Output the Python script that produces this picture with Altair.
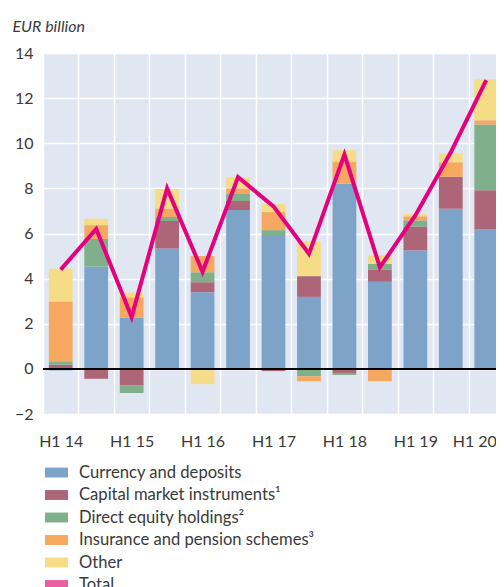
import altair as alt
import pandas as pd

categories = ["H1 14", "H2 14", "H1 15", "H2 15", "H1 16", "H2 16", "H1 17",
              "H2 17", "H1 18", "H2 18", "H1 19", "H2 19", "H1 20"]
series_names = ["Currency and deposits", "Capital market instruments\u00b9",
                "Direct equity holdings\u00b2", "Insurance and pension schemes\u00b3",
                "Other", "Total"]
currency = [-0.07, 4.53, 2.28, 5.34, 3.40, 7.04, 5.93, 3.19, 8.21, 3.86, 5.25, 7.10, 6.18]
capital = [0.19, -0.44, -0.74, 1.21, 0.44, 0.40, -0.10, 0.92, -0.18, 0.55, 1.06, 1.42, 1.74]
equity = [0.12, 1.23, -0.33, 0.18, 0.44, 0.31, 0.22, -0.33, -0.09, 0.24, 0.27, 0.0, 2.91]
insurance = [2.68, 0.61, 0.89, 0.38, 0.72, 0.25, 0.80, -0.22, 0.98, -0.55, 0.18, 0.64, 0.19]
other = [1.45, 0.28, 0.21, 0.86, -0.68, 0.49, 0.35, 1.54, 0.50, 0.38, 0.10, 0.40, 1.82]
total = [4.4, 6.2, 2.3, 8.0, 4.3, 8.5, 7.2, 5.1, 9.5, 4.5, 6.8, 9.6, 12.8]

colors = ["#7ea3c8", "#ac6677", "#80b08b", "#f6a860", "#f5dc86", "#ea5fa0"]
line_color = "#e5007d"
font = "Lato"
text_color = "#3a3a3a"

rows = []
for k, vals in enumerate([currency, capital, equity, insurance, other]):
    for c, v in zip(categories, vals):
        rows.append({"period": c, "series": series_names[k], "idx": k, "value": v})
bars_df = pd.DataFrame(rows)
total_df = pd.DataFrame({"period": categories, "value": total})

last_label = categories[-1]
x_enc = alt.X("period:N", sort=categories,
              scale=alt.Scale(paddingInner=0, paddingOuter=0),
              axis=alt.Axis(title=None, labelAngle=0, grid=True, tickBand="extent",
                            labelExpr="substring(datum.label, 0, 2) == 'H1' ? datum.label : ''",
                            labelOffset={"condition": {"test": f"datum.value == '{last_label}'",
                                                       "value": -12},
                                         "value": 0},
                            labelPadding=19, labelOverlap=False))
y_axis = alt.Axis(values=list(range(-2, 15, 2)), title="EUR billion",
                  titleAngle=0, titleAlign="left", titleBaseline="alphabetic",
                  titleX=-31, titleY=-22, titleFont=font, titleFontStyle="italic",
                  titleFontWeight="normal", titleFontSize=16, titleColor=text_color,
                  labelPadding=10)
y_scale = alt.Scale(domain=[-2, 14], nice=False)

bars = alt.Chart(bars_df).mark_bar(width=alt.RelativeBandSize(0.67)).encode(
    x=x_enc,
    y=alt.Y("value:Q", stack="zero", scale=y_scale, axis=y_axis),
    color=alt.Color("series:N",
                    scale=alt.Scale(domain=series_names, range=colors),
                    legend=alt.Legend(orient="none", legendX=2, legendY=408,
                                      direction="vertical", title=None,
                                      symbolType="M-1,-0.43H1V0.43H-1Z",
                                      symbolSize=529, symbolStrokeWidth=0,
                                      labelFont=font, labelFontSize=16.6,
                                      labelColor=text_color, labelOffset=11,
                                      rowPadding=1.5, labelLimit=400)),
    order=alt.Order("idx:Q", sort="ascending"),
)

zero = alt.Chart(total_df).mark_rule(color="black", strokeWidth=1).encode(
    y=alt.datum(0)
)

line = alt.Chart(total_df).mark_line(color=line_color, strokeWidth=4,
                                     strokeJoin="miter").encode(
    x=x_enc,
    y=alt.Y("value:Q", scale=y_scale, axis=y_axis),
)

chart = alt.layer(bars, zero, line).properties(
    width=461, height=361,
    autosize=alt.AutoSizeParams(type="none"),
    padding={"left": 35, "top": 45, "right": -8, "bottom": 175},
).configure_view(fill="#e1e7f2", strokeWidth=0).configure_axis(
    labelFont=font, labelFontSize=16, labelColor=text_color,
    gridColor="white", gridWidth=1.5, domain=False, ticks=False, tickSize=0,
)

chart.save("out.html", embed_options={"renderer": "svg", "actions": False})
